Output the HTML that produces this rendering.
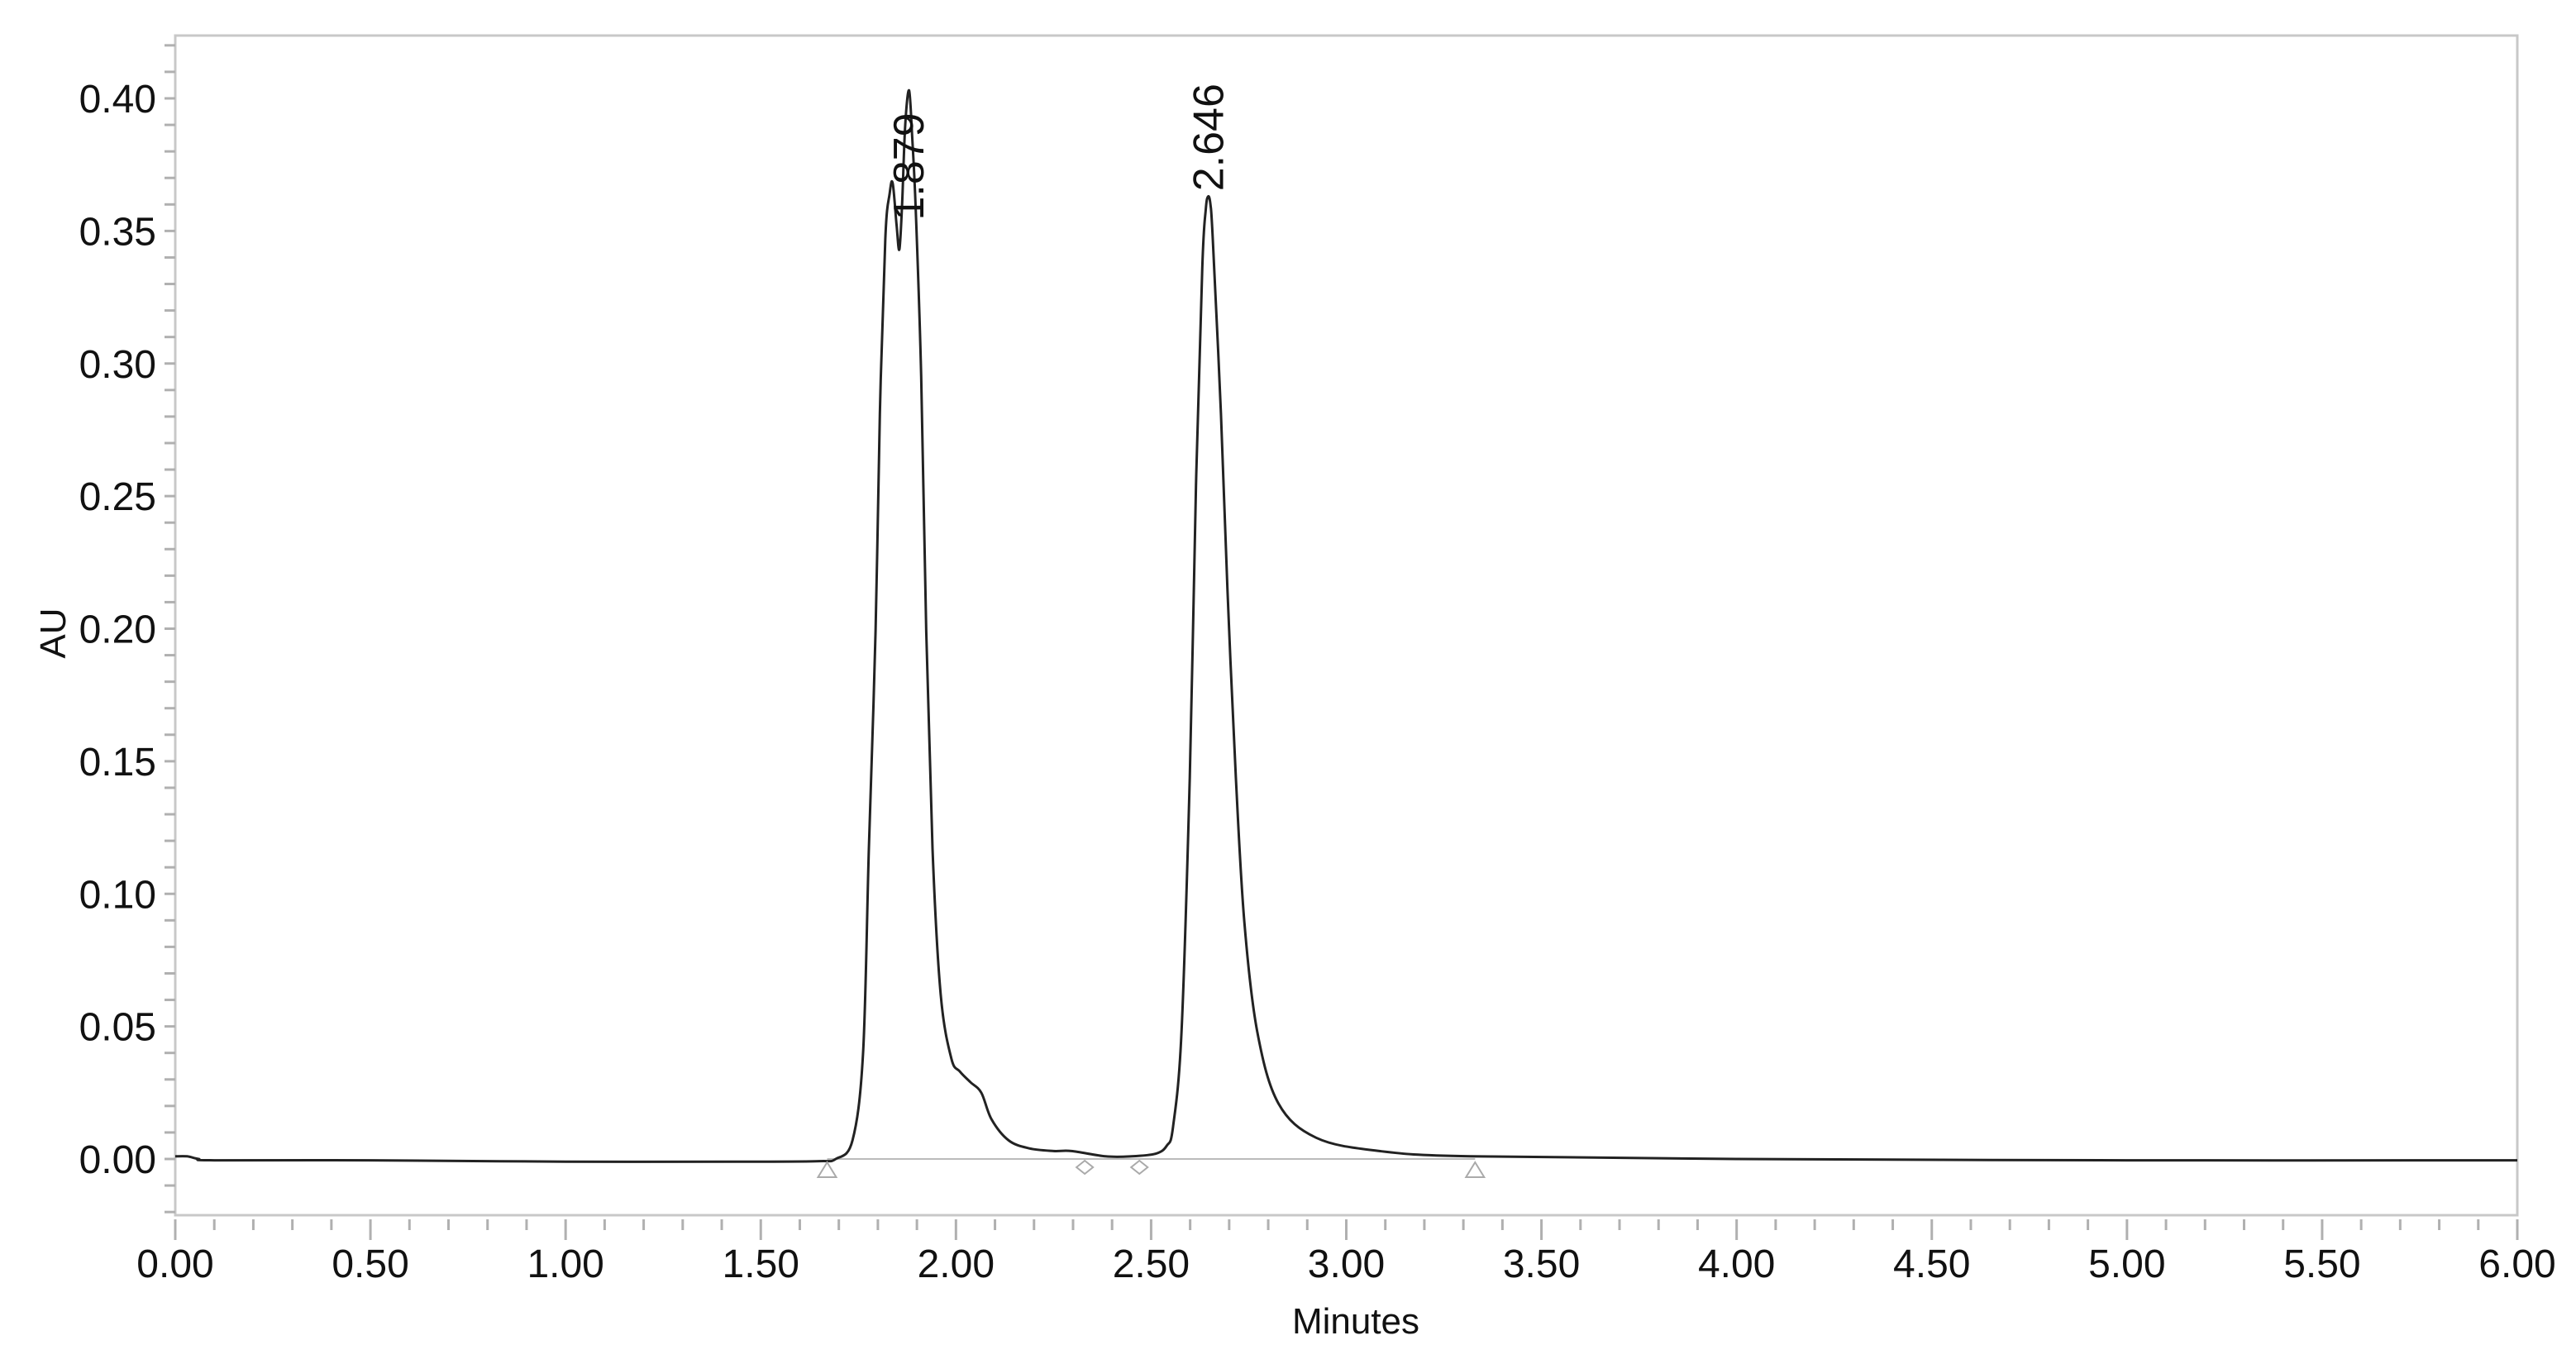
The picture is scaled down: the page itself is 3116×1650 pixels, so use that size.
<!DOCTYPE html>
<html><head><meta charset="utf-8"><style>
html,body{margin:0;padding:0;background:#fff}
svg{display:block;font-family:"Liberation Sans",sans-serif}
</style></head><body>
<svg id="chart" width="3116" height="1650" viewBox="0 0 3116 1650" xmlns="http://www.w3.org/2000/svg">
<rect x="0" y="0" width="3116" height="1650" fill="#fff"/>
<g id="axes"></g>
<g id="plot"></g>
</svg>
<script>
const times = [0.00,0.03,0.06,0.10,0.50,1.00,1.50,1.65,1.692,1.735,1.762,1.777,1.794,1.805,1.819,1.830,1.838,1.848,1.855,1.862,1.870,1.880,1.888,1.897,1.911,1.924,1.940,1.961,1.988,2.010,2.037,2.065,2.091,2.135,2.188,2.250,2.296,2.383,2.450,2.512,2.540,2.556,2.578,2.599,2.615,2.631,2.640,2.646,2.652,2.658,2.679,2.696,2.717,2.739,2.772,2.826,2.923,3.085,3.32,4.00,5.00,6.00];
const values = [0.001,0.001,0.0,-0.0005,-0.0005,-0.001,-0.001,-0.0008,0.0,0.007,0.040,0.117,0.199,0.281,0.347,0.364,0.368,0.352,0.343,0.360,0.390,0.403,0.385,0.358,0.295,0.199,0.117,0.062,0.038,0.033,0.029,0.025,0.015,0.007,0.004,0.003,0.003,0.001,0.001,0.002,0.005,0.012,0.048,0.144,0.254,0.336,0.358,0.363,0.360,0.347,0.281,0.213,0.144,0.089,0.048,0.021,0.008,0.003,0.001,0.0,-0.0005,-0.0005];
const xTicks = [0,0.5,1,1.5,2,2.5,3,3.5,4,4.5,5,5.5,6];
const xTickLabels = ["0.00","0.50","1.00","1.50","2.00","2.50","3.00","3.50","4.00","4.50","5.00","5.50","6.00"];
const yTicks = [0,0.05,0.10,0.15,0.20,0.25,0.30,0.35,0.40];
const yTickLabels = ["0.00","0.05","0.10","0.15","0.20","0.25","0.30","0.35","0.40"];
const peakTimes = [1.879,2.646];
const peakLabels = ["1.879","2.646"];
const peakLabelBase = [0.354,0.365];
const triangleTimes = [1.67,3.33];
const diamondTimes = [2.33,2.47];
const baselineStart = 1.67, baselineEnd = 3.33;

const X0=212, X1=3045, Y0=43, Y1=1470;
const xMin=0,xMax=6, yZero=1402, yPer=3207.5;
function sx(t){return X0+(t-xMin)/(xMax-xMin)*(X1-X0);}
function sy(v){return yZero - v*yPer;}
const NS="http://www.w3.org/2000/svg";
function mk(tag,attrs,parent){const e=document.createElementNS(NS,tag);for(const k in attrs)e.setAttribute(k,attrs[k]);parent.appendChild(e);return e;}
const axes=document.getElementById('axes'), plot=document.getElementById('plot');

let frame=mk('rect',{x:X0,y:Y0,width:X1-X0,height:Y1-Y0,fill:'none',stroke:'#c8c8c8','stroke-width':3},axes);



for(let i=-2;i<=42;i++){
  const v=i/100; const y=sy(v); if(y<Y0||y>Y1) continue;
  const t=mk('line',{x1:199,x2:X0,y1:y,y2:y,stroke:'#b0b0b0','stroke-width':3},axes);
  
  
}
yTicks.forEach((v,i)=>{
  const t=mk('text',{x:189,y:sy(v)+17,'text-anchor':'end','font-size':48,fill:'#111'},axes);
  t.textContent=yTickLabels[i];
  
  
});
for(let i=0;i<=60;i++){
  const x=sx(i/10); const major=i%5===0;
  const t=mk('line',{x1:x,x2:x,y1:1475,y2:major?1500:1488,stroke:'#b0b0b0','stroke-width':3},axes);
  
  
}
xTicks.forEach((v,i)=>{
  const t=mk('text',{x:sx(v),y:1545,'text-anchor':'middle','font-size':48,fill:'#111'},axes);
  t.textContent=xTickLabels[i];
  
  
});
let xt=mk('text',{x:1640,y:1613,'text-anchor':'middle','font-size':44,fill:'#111'},axes);
xt.textContent='Minutes';


let yt=mk('text',{x:0,y:0,'text-anchor':'middle','font-size':44,fill:'#111',transform:'translate(79,766) rotate(-90)'},axes);
yt.textContent='AU';



let bl=mk('line',{x1:sx(baselineStart),x2:sx(baselineEnd),y1:sy(0),y2:sy(0),stroke:'#bbbbbb','stroke-width':2},plot);



// smooth trace (Catmull-Rom)
const P=times.map((t,i)=>[sx(t),sy(values[i])]);
let d='M'+P[0][0].toFixed(1)+','+P[0][1].toFixed(1);
for(let i=0;i<P.length-1;i++){
  const p0=P[Math.max(0,i-1)],p1=P[i],p2=P[i+1],p3=P[Math.min(P.length-1,i+2)];
  const c1=[p1[0]+(p2[0]-p0[0])/6,p1[1]+(p2[1]-p0[1])/6];
  const c2=[p2[0]-(p3[0]-p1[0])/6,p2[1]-(p3[1]-p1[1])/6];
  d+='C'+c1[0].toFixed(1)+','+c1[1].toFixed(1)+' '+c2[0].toFixed(1)+','+c2[1].toFixed(1)+' '+p2[0].toFixed(1)+','+p2[1].toFixed(1);
}
let tr=mk('path',{d:d,fill:'none',stroke:'#222','stroke-width':3,'stroke-linejoin':'round'},plot);



triangleTimes.forEach(t=>{
  const x=sx(t), y=sy(0)+4;
  const m=mk('path',{d:`M${x-11},${y+18}L${x+11},${y+18}L${x},${y}Z`,fill:'none',stroke:'#aaa','stroke-width':2},plot);
  
  
});
diamondTimes.forEach(t=>{
  const x=sx(t), y=sy(0)+10;
  const m=mk('path',{d:`M${x-10},${y}L${x},${y-8}L${x+10},${y}L${x},${y+8}Z`,fill:'none',stroke:'#aaa','stroke-width':2},plot);
  
  
});

peakTimes.forEach((t,i)=>{
  const x=sx(t)+18, y=sy(peakLabelBase[i]);
  const l=mk('text',{x:0,y:0,'font-size':52,fill:'#111',transform:`translate(${x},${y}) rotate(-90)`},plot);
  l.textContent=peakLabels[i];
  
  
});
</script>
</body></html>
